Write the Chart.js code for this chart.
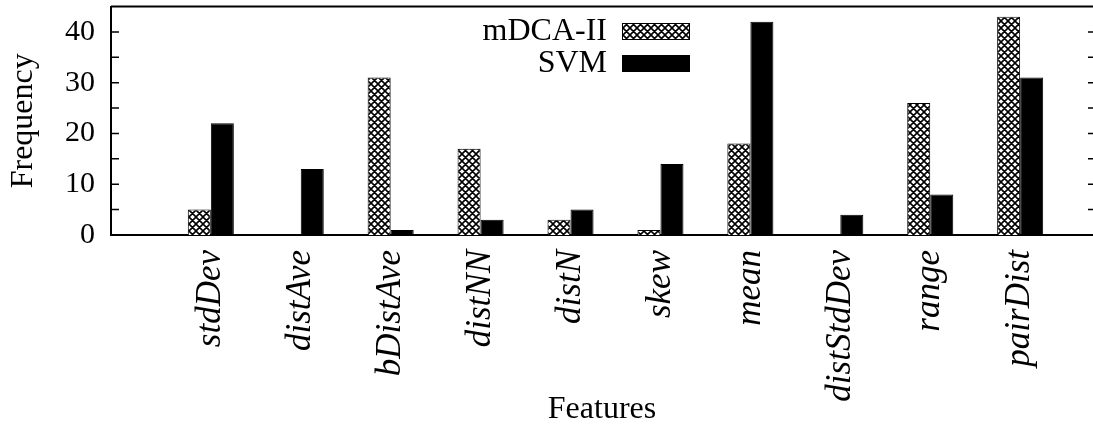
<!DOCTYPE html>
<html><head><meta charset="utf-8">
<script src="https://cdn.jsdelivr.net/npm/chart.js@4.4.0/dist/chart.umd.min.js"></script>
<style>html,body{margin:0;padding:0;background:#fff;overflow:hidden;}</style>
</head><body><canvas id="c" width="1093" height="427"></canvas>
<script>
const categories = ["stdDev","distAve","bDistAve","distNN","distN","skew","mean","distStdDev","range","pairDist"];
const mdcaValues = [5, 0, 31, 17, 3, 1, 18, 0, 26, 43];
const svmValues  = [22, 13, 1, 3, 5, 14, 42, 4, 8, 31];
const seriesNames = ["mDCA-II", "SVM"];
const yTickLabels = [0, 10, 20, 30, 40];
const yMinorTicks = [5, 15, 25, 35];

const canvas = document.getElementById('c');
const ctx0 = canvas.getContext('2d');

function makeHatch() {
  const n = 7;
  const p = document.createElement('canvas');
  p.width = n; p.height = n;
  const g = p.getContext('2d');
  g.fillStyle = '#fff'; g.fillRect(0, 0, n, n);
  g.strokeStyle = '#000'; g.lineWidth = 1.6;
  g.beginPath();
  for (const o of [-n, 0, n]) {
    g.moveTo(o, 0); g.lineTo(o + n, n);
    g.moveTo(o + n, 0); g.lineTo(o, n);
  }
  g.stroke();
  return ctx0.createPattern(p, 'repeat');
}
const hatch = makeHatch();

const serif = 'Liberation Serif';

const framePlugin = {
  id: 'frame',
  afterDraw(chart) {
    const { ctx, chartArea: a, scales: { y } } = chart;
    ctx.save();
    ctx.strokeStyle = '#000';
    ctx.lineWidth = 2;
    ctx.beginPath();
    ctx.moveTo(a.left, a.top);
    ctx.lineTo(a.right + 2, a.top);
    ctx.stroke();
    ctx.lineWidth = 1.5;
    ctx.beginPath();
    [...yTickLabels, ...yMinorTicks].forEach(v => {
      if (v === 0) return;
      const py = y.getPixelForValue(v);
      ctx.moveTo(a.left, py); ctx.lineTo(a.left + 8, py);
      ctx.moveTo(a.right + 2, py); ctx.lineTo(a.right - 5, py);
    });
    ctx.stroke();
    ctx.restore();
  }
};

const legendPlugin = {
  id: 'sideLegend',
  afterDraw(chart) {
    const { ctx } = chart;
    ctx.save();
    ctx.font = '32px "' + serif + '"';
    ctx.textAlign = 'right';
    ctx.textBaseline = 'alphabetic';
    chart.data.datasets.forEach((ds, i) => {
      const base = 40 + i * 32;
      ctx.fillStyle = '#000';
      ctx.fillText(ds.label, 607, base);
      ctx.fillStyle = ds.backgroundColor;
      ctx.fillRect(622, base - 17, 68, 17);
      ctx.strokeStyle = '#000';
      ctx.lineWidth = 1;
      ctx.strokeRect(622.5, base - 16.5, 67, 16);
    });
    ctx.restore();
  }
};

new Chart(canvas, {
  type: 'bar',
  data: {
    datasets: [
      { label: seriesNames[0], data: categories.map((c, i) => ({ x: i, y: mdcaValues[i] })),
        backgroundColor: hatch, borderColor: '#000', borderWidth: 1 },
      { label: seriesNames[1], data: categories.map((c, i) => ({ x: i, y: svmValues[i] })),
        backgroundColor: '#000', borderColor: '#000', borderWidth: 1 }
    ]
  },
  options: {
    responsive: false,
    animation: false,
    devicePixelRatio: 1,
    categoryPercentage: 0.512,
    barPercentage: 1,
    layout: { padding: { top: 6.5, right: 0, bottom: 0, left: 0 } },
    plugins: { legend: { display: false }, tooltip: { enabled: false } },
    scales: {
      x: {
        type: 'linear', min: -1.11, max: 9.81, offset: false,
        grid: { display: false, drawTicks: false, offset: false },
        border: { display: true, color: '#000', width: 2 },
        afterBuildTicks: s => { s.ticks = categories.map((_, i) => ({ value: i })); },
        ticks: {
          callback: (v) => categories[v],
          minRotation: 90, maxRotation: 90, autoSkip: false, padding: 15,
          font: { family: serif, style: 'italic', size: 35 }, color: '#000'
        },
        title: { display: true, text: 'Features', color: '#000',
          font: { family: serif, size: 32, lineHeight: 1 }, padding: { top: 0, bottom: 1.5 } },
        afterFit: s => { s.height = 192; s.paddingLeft = 0; s.paddingRight = 0; }
      },
      y: {
        min: 0, max: 45,
        grid: { display: false, drawTicks: false },
        border: { display: true, color: '#000', width: 2 },
        afterBuildTicks: s => { s.ticks = yTickLabels.map(v => ({ value: v })); },
        ticks: { padding: 16, font: { family: serif, size: 30 }, color: '#000' },
        title: { display: true, text: 'Frequency', color: '#000',
          font: { family: serif, size: 32, lineHeight: 1 }, padding: { top: 8, bottom: 0 } },
        afterFit: s => { s.width = 111; s.paddingTop = 0; s.paddingBottom = 0; }
      }
    }
  },
  plugins: [framePlugin, legendPlugin]
});
</script>
</body></html>
